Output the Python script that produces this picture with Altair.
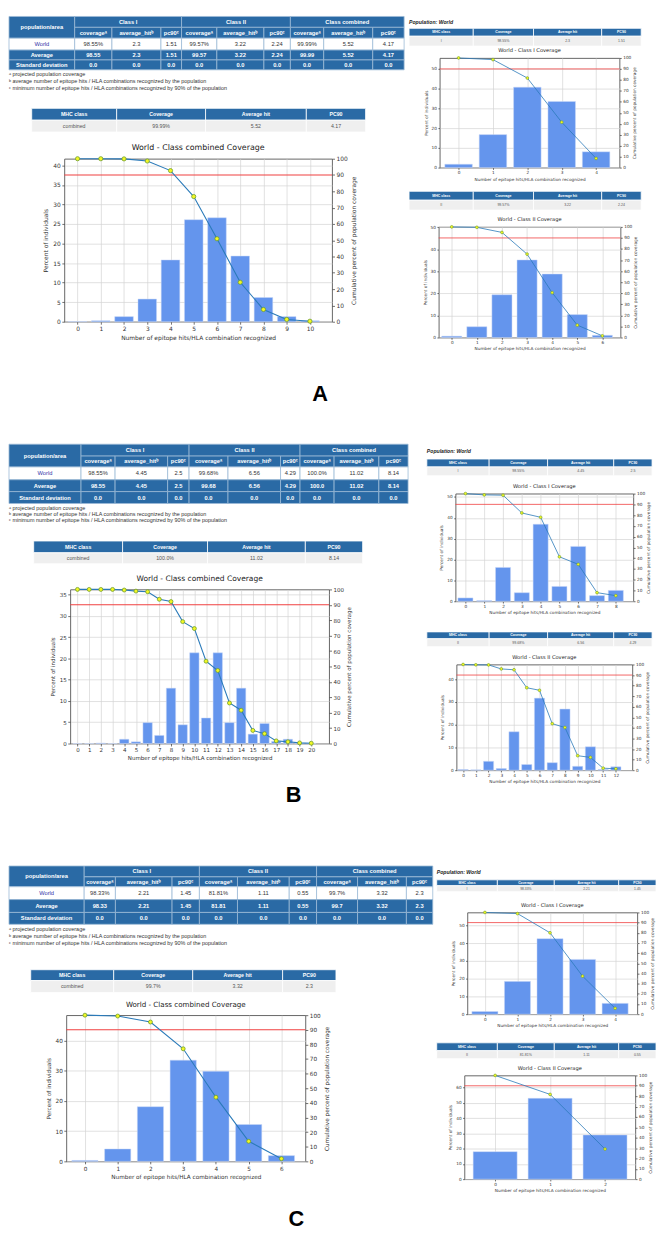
import altair as alt
import pandas as pd

# ================= DATA =================
# Panel A
HITS_A_COMB = [0, 1, 2, 3, 4, 5, 6, 7, 8, 9, 10]
PCT_A_COMB = [0.05, 0.25, 1.3, 5.8, 15.8, 26.1, 26.6, 16.8, 6.2, 1.3, 0.25]
CUM_A_COMB = [100, 100, 99.9, 98.6, 92.7, 76.8, 50.9, 24.2, 7.5, 1.4, 0.3]
HITS_A_I = [0, 1, 2, 3, 4]
PCT_A_I = [1.7, 16.7, 40.7, 33.5, 8.0]
CUM_A_I = [100, 98.5, 81.7, 41.4, 8.4]
HITS_A_II = [0, 1, 2, 3, 4, 5, 6]
PCT_A_II = [0.6, 4.9, 19.4, 35.2, 28.8, 10.4, 1.0]
CUM_A_II = [100, 99.6, 95.0, 75.4, 40.5, 11.2, 1.5]
# Panel B
HITS_B_COMB = [0, 1, 2, 3, 4, 5, 6, 7, 8, 9, 10, 11, 12, 13, 14, 15, 16, 17, 18, 19, 20]
PCT_B_COMB = [0, 0, 0.1, 0, 1.0, 0.4, 4.9, 1.9, 13.0, 4.4, 21.3, 6.0, 21.3, 4.9, 13.0, 2.2, 4.7, 0.5, 1.0, 0.1, 0.05]
CUM_B_COMB = [100, 100, 100, 100, 99.6, 98.9, 98.5, 93.6, 92.1, 79.1, 74.6, 53.4, 47.4, 26.3, 21.6, 8.5, 6.4, 1.7, 1.1, 0.4, 0.2]
HITS_B_I = [0, 1, 2, 3, 4, 5, 6, 7, 8]
PCT_B_I = [1.6, 0.3, 16.2, 4.1, 36.9, 7.1, 26.3, 2.7, 5.2]
CUM_B_I = [100, 98.8, 98.5, 82.0, 78.0, 41.3, 34.3, 8.0, 5.2]
HITS_B_II = [0, 1, 2, 3, 4, 5, 6, 7, 8, 9, 10, 11, 12]
PCT_B_II = [0.3, 0.15, 3.9, 0.7, 16.9, 2.5, 31.7, 3.3, 26.9, 1.7, 10.3, 0.3, 1.5]
CUM_B_II = [100, 99.7, 99.6, 95.8, 95.0, 78.0, 75.6, 44.0, 40.4, 13.7, 12.1, 1.9, 1.3]
# Panel C
HITS_C_COMB = [0, 1, 2, 3, 4, 5, 6]
PCT_C_COMB = [0.3, 4.1, 18.1, 33.5, 29.8, 12.2, 1.9]
CUM_C_COMB = [100, 99.4, 95.3, 77.0, 43.9, 13.7, 1.8]
HITS_C_I = [0, 1, 2, 3, 4]
PCT_C_I = [1.5, 18.5, 42.6, 30.9, 6.1]
CUM_C_I = [100, 98.9, 80.0, 37.4, 5.8]
HITS_C_II = [0, 1, 2]
PCT_C_II = [18.0, 52.9, 28.9]
CUM_C_II = [100, 81.7, 29.0]

RULE_LEVEL = [90]
RIGHT_TICKS = [0, 10, 20, 30, 40, 50, 60, 70, 80, 90, 100]
PANEL_LETTERS = ["A", "B", "C"]

# Tables
AREA_HEAD = "population/area"
CLASS_NAMES = ["Class I", "Class II", "Class combined"]
SUB_HEADS = ["coverageᵃ", "average_hitᵇ", "pc90ᶜ"]
A_WORLD = ["World", "98.55%", "2.3", "1.51", "99.57%", "3.22", "2.24", "99.99%", "5.52", "4.17"]
A_AVG = ["Average", "98.55", "2.3", "1.51", "99.57", "3.22", "2.24", "99.99", "5.52", "4.17"]
B_WORLD = ["World", "98.55%", "4.45", "2.5", "99.68%", "6.56", "4.29", "100.0%", "11.02", "8.14"]
B_AVG = ["Average", "98.55", "4.45", "2.5", "99.68", "6.56", "4.29", "100.0", "11.02", "8.14"]
C_WORLD = ["World", "98.33%", "2.21", "1.45", "81.81%", "1.11", "0.55", "99.7%", "3.32", "2.3"]
C_AVG = ["Average", "98.33", "2.21", "1.45", "81.81", "1.11", "0.55", "99.7", "3.32", "2.3"]
SD_ROW = ["Standard deviation", "0.0", "0.0", "0.0", "0.0", "0.0", "0.0", "0.0", "0.0", "0.0"]
FOOTNOTES = ["ᵃ projected population coverage",
             "ᵇ average number of epitope hits / HLA combinations recognized by the population",
             "ᶜ minimum number of epitope hits / HLA combinations recognized by 90% of the population"]
MHC_HEAD = ["MHC class", "Coverage", "Average hit", "PC90"]
MHC_A_COMB = ["combined", "99.99%", "5.52", "4.17"]
MHC_A_I = ["I", "98.55%", "2.3", "1.51"]
MHC_A_II = ["II", "99.57%", "3.22", "2.24"]
MHC_B_COMB = ["combined", "100.0%", "11.02", "8.14"]
MHC_B_I = ["I", "98.55%", "4.45", "2.5"]
MHC_B_II = ["II", "99.68%", "6.56", "4.29"]
MHC_C_COMB = ["combined", "99.7%", "3.32", "2.3"]
MHC_C_I = ["I", "98.33%", "2.21", "1.45"]
MHC_C_II = ["II", "81.81%", "1.11", "0.55"]
POP_TITLE = "Population: World"
X_TITLE = "Number of epitope hits/HLA combination recognized"
Y_LEFT = "Percent of individuals"
Y_RIGHT = "Cumulative percent of population coverage"

# ================= STYLE =================
FONT_T = "Liberation Sans"
FONT_C = "DejaVu Sans"
HDR = "#2a6aa5"
LINK = "#3434a8"
BAR = "#6495ed"
BAR_EDGE = "#c9d9f7"
LINE = "#2a7ab9"
MK_FILL = "#f2f724"
MK_EDGE = "#6f9e2e"
RED = "#f04040"
GRID = "#d4d4d4"
INK = "#333333"


def style(title, lab, tick, tp, lw, mk, mkw, toff, lw_lab):
    s = dict(title=title, lab=lab, ax=lab, tick=tick, tp=tp, lw=lw, mk=mk, mkw=mkw, toff=toff)
    # estimated extents of title / axes outside the plot area (used to place views)
    s["top"] = toff + title + lab / 2 + 1
    s["bot"] = tick + 1.5 + lab + tp + lab + 0.5
    s["left"] = tick + 1.5 + lw_lab + tp + 1 + lab
    return s


BIG = style(8, 6, 2.5, 3, 1.1, 18, 0.8, 3, 7.6)
BIGB = style(7.6, 5.6, 2.5, 3, 1.1, 16, 0.8, 3, 7.1)
BIGC = style(7.2, 5.8, 2.5, 3, 1.1, 16, 0.8, 3, 7.4)
SMALL = style(5.2, 4.3, 1.8, 2, 0.8, 8, 0.6, 2, 5.5)

UNIT = alt.Scale(domain=[0, 1], nice=False, zero=False)
UNIT_R = alt.Scale(domain=[0, 1], nice=False, zero=False, reverse=True)


def frame():
    # invisible rectangle covering the whole view, so the view's extent is fixed
    return alt.Chart(pd.DataFrame({"s": [0]})).mark_rect(opacity=0).encode(
        x=alt.XDatum(0, type="quantitative", scale=UNIT, axis=None), x2=alt.X2Datum(1),
        y=alt.YDatum(0, type="quantitative", scale=UNIT_R, axis=None), y2=alt.Y2Datum(1))


def spacer(w, h):
    return frame().properties(width=w, height=h)


def edges(ws):
    tot = float(sum(ws))
    out, acc = [0.0], 0.0
    for v in ws:
        acc += v
        out.append(acc / tot)
    return out


def cells_chart(cells, w, h, fs, stroke, sw):
    df = pd.DataFrame(cells, columns=["x0", "x1", "y0", "y1", "txt", "fill", "tcol", "bold"])
    base = alt.Chart(df)
    rect = base.mark_rect(stroke=stroke, strokeWidth=sw).encode(
        x=alt.X("x0:Q", scale=UNIT, axis=None), x2="x1:Q",
        y=alt.Y("y0:Q", scale=UNIT_R, axis=None), y2="y1:Q",
        fill=alt.Fill("fill:N", scale=None))
    tb = base.transform_calculate(xc="(datum.x0+datum.x1)/2", yc="(datum.y0+datum.y1)/2")
    enc = dict(x=alt.X("xc:Q", scale=UNIT, axis=None), y=alt.Y("yc:Q", scale=UNIT_R, axis=None),
               text="txt:N", color=alt.Color("tcol:N", scale=None))
    t1 = tb.transform_filter("datum.bold == 1").mark_text(
        font=FONT_T, fontSize=fs, fontWeight="bold", baseline="middle").encode(**enc)
    t0 = tb.transform_filter("datum.bold == 0").mark_text(
        font=FONT_T, fontSize=fs, baseline="middle").encode(**enc)
    return alt.layer(rect, t1, t0).properties(width=w, height=h)


def big_table(world, avg, sd, colw, rowh, w, h, fs):
    cx, ry = edges(colw), edges(rowh)
    cells = []

    def add(c0, c1, r0, r1, txt, fill, tcol, bold):
        cells.append((cx[c0], cx[c1], ry[r0], ry[r1], txt, fill, tcol, bold))
    add(0, 1, 0, 2, AREA_HEAD, HDR, "#ffffff", 1)
    for g, name in enumerate(CLASS_NAMES):
        add(1 + 3 * g, 4 + 3 * g, 0, 1, name, HDR, "#ffffff", 1)
        for j, sub in enumerate(SUB_HEADS):
            add(1 + 3 * g + j, 2 + 3 * g + j, 1, 2, sub, HDR, "#ffffff", 1)
    for j, v in enumerate(world):
        add(j, j + 1, 2, 3, v, "#ffffff", LINK if j == 0 else INK, 0)
    for j, v in enumerate(avg):
        add(j, j + 1, 3, 4, v, HDR, "#ffffff", 1)
    for j, v in enumerate(sd):
        add(j, j + 1, 4, 5, v, HDR, "#ffffff", 1)
    return cells_chart(cells, w, h, fs, "#9cbad6", 0.8)


def mhc_table(vals, colw, rowh, w, h, fs):
    cx, ry = edges(colw), edges(rowh)
    cells = []
    for j, v in enumerate(MHC_HEAD):
        cells.append((cx[j], cx[j + 1], ry[0], ry[1], v, HDR, "#ffffff", 1))
    for j, v in enumerate(vals):
        cells.append((cx[j], cx[j + 1], ry[1], ry[2], v, "#efefef", "#555555", 0))
    return cells_chart(cells, w, h, fs, "#ffffff", 0.8)


def text_lines(lines, w, h, fs, weight="normal", style_="normal", color=INK):
    n = len(lines)
    df = pd.DataFrame({"i": list(range(n)), "txt": lines})
    txt = alt.Chart(df).transform_calculate(yy="(datum.i + 0.5) / %d" % n).mark_text(
        font=FONT_T, fontSize=fs, fontWeight=weight, fontStyle=style_,
        align="left", baseline="middle", color=color).encode(
        x=alt.XDatum(0, type="quantitative", scale=UNIT, axis=None),
        y=alt.Y("yy:Q", scale=UNIT_R, axis=None), text="txt:N")
    return alt.layer(frame(), txt).properties(width=w, height=h)


def coverage_chart(title, hits, pct, cum, ymax, lticks, xdom, w, h, st, tag=None):
    df = pd.DataFrame({"hits": hits, "pct": pct, "cum": cum})
    base = alt.Chart(df)
    xs = alt.Scale(domain=xdom, nice=False, zero=False)
    ys = alt.Scale(domain=[0, 100], nice=False, zero=True)
    yl = alt.Scale(domain=[0, ymax], nice=False, zero=True)

    def xaxis():
        return alt.Axis(values=hits, format="d", title=X_TITLE, grid=True, gridColor=GRID, gridWidth=0.7,
                        domain=False, tickColor=INK, tickSize=st["tick"], tickWidth=0.7,
                        labelColor=INK, labelFont=FONT_C, labelFontSize=st["lab"], labelPadding=1.5,
                        labelFlush=False, labelOverlap=False,
                        titleFont=FONT_C, titleFontSize=st["ax"], titleFontWeight="normal",
                        titleColor=INK, titlePadding=st["tp"])

    def yraxis():
        return alt.Axis(values=RIGHT_TICKS, orient="right", title=Y_RIGHT, grid=False, domain=False,
                        tickColor=INK, tickSize=st["tick"], tickWidth=0.7,
                        labelColor=INK, labelFont=FONT_C, labelFontSize=st["lab"], labelPadding=1.5,
                        labelFlush=False, titleFont=FONT_C, titleFontSize=st["ax"],
                        titleFontWeight="normal", titleColor=INK, titlePadding=st["tp"],
                        titleAngle=270, titleBaseline="top")

    def ylaxis():
        return alt.Axis(values=lticks, orient="left", title=Y_LEFT, grid=True, gridColor=GRID,
                        gridWidth=0.7, domain=False, tickColor=INK, tickSize=st["tick"], tickWidth=0.7,
                        labelColor=INK, labelFont=FONT_C, labelFontSize=st["lab"], labelPadding=1.5,
                        labelFlush=False, titleFont=FONT_C, titleFontSize=st["ax"],
                        titleFontWeight="normal", titleColor=INK, titlePadding=st["tp"] + 1)
    bars = base.transform_calculate(
        x0="datum.hits - 0.4", x1="datum.hits + 0.4", zero="0").mark_bar(
        color=BAR, stroke=BAR_EDGE, strokeWidth=0.5).encode(
        x=alt.X("x0:Q", scale=xs, axis=xaxis()), x2="x1:Q",
        y=alt.Y("pct:Q", scale=yl, axis=ylaxis()),
        y2="zero:Q")
    left_layers = [bars]
    if tag is not None:
        # panel letter, anchored at the plot's bottom-left corner and offset below the axis
        letter_txt, dx, dy = tag
        left_layers.append(alt.Chart(pd.DataFrame({"L": [letter_txt]})).mark_text(
            font=FONT_T, fontSize=22, fontWeight="bold", color="#000000",
            align="center", baseline="middle", dx=dx, dy=dy).encode(
            x=alt.XDatum(xdom[0], type="quantitative", scale=xs, axis=xaxis()),
            y=alt.YDatum(0, type="quantitative", scale=yl, axis=ylaxis()),
            text="L:N"))
    left = alt.layer(*left_layers)
    rule = alt.Chart(pd.DataFrame({"r": RULE_LEVEL})).mark_rule(color=RED, strokeWidth=st["lw"]).encode(
        y=alt.Y("r:Q", scale=ys, axis=yraxis()))
    line = base.mark_line(color=LINE, strokeWidth=st["lw"]).encode(
        x=alt.X("hits:Q", scale=xs, axis=xaxis()),
        y=alt.Y("cum:Q", scale=ys, axis=yraxis()))
    pts = base.mark_point(shape="circle", filled=True, fill=MK_FILL, stroke=MK_EDGE,
                          strokeWidth=st["mkw"], size=st["mk"], opacity=1).encode(
        x=alt.X("hits:Q", scale=xs, axis=xaxis()),
        y=alt.Y("cum:Q", scale=ys, axis=yraxis()))
    right = alt.layer(rule, line, pts)
    return alt.layer(left, right).resolve_scale(y="independent").properties(
        width=w, height=h,
        title=alt.TitleParams(title, font=FONT_C, fontSize=st["title"], fontWeight="normal",
                              color="#222222", offset=st["toff"], anchor="middle"),
        view=alt.ViewBackground(stroke="#555555", strokeWidth=0.9))


def plain(y, x, h, ch, edge=0.5):
    return dict(y=y, x=x, h=h, ch=ch, top=edge, bot=edge, left=0)


def text_entry(y, x, h, ch):
    return dict(y=y, x=x, h=h, ch=ch, top=0, bot=0, left=0)


def plot(y, x, h, ch, st):
    return dict(y=y, x=x, h=h, ch=ch, top=st["top"], bot=st["bot"], left=st["left"])


def column(entries, col_x, y_start):
    items, cur = [], float(y_start)
    for e in entries:
        g = round(e["y"] - e["top"] - cur)
        if g >= 1:
            items.append(spacer(1, g))
            cur += g
        sw = round(e["x"] - col_x - e["left"])
        if sw >= 1:
            items.append(alt.hconcat(spacer(sw, 1), e["ch"], spacing=0))
        else:
            items.append(e["ch"])
        cur += e["top"] + e["h"] + e["bot"]
    return alt.vconcat(*items, spacing=0)


LMHC = [86, 90, 102, 60]
RMHC = [65, 61, 69, 40]
TOP_SHIFT = 6

# ================= PANEL A =================
leftA = column([
    plain(8, 8, 54, big_table(A_WORLD, A_AVG, SD_ROW, [67, 38, 50, 21, 36, 48, 27, 34, 50, 32],
                             [11, 11, 12, 10, 10], 400, 54, 5.8)),
    text_entry(62, 8, 21, text_lines(FOOTNOTES, 400, 21, 5.5)),
    plain(106, 30, 24, mhc_table(MHC_A_COMB, LMHC, [12, 12], 338, 24, 5.3)),
    plot(156, 63, 165, coverage_chart("World - Class combined Coverage", HITS_A_COMB, PCT_A_COMB, CUM_A_COMB,
                                      41.7, [0, 5, 10, 15, 20, 25, 30, 35, 40], [-0.57, 10.95], 271, 165, BIG,
                                      tag=(PANEL_LETTERS[0], 259, 73)), BIG),
], 8, 8 + TOP_SHIFT)
rightA = column([
    text_entry(8, 412, 11, text_lines([POP_TITLE], 235, 11, 5.2, weight="bold", style_="italic", color="#222222")),
    plain(19, 412, 18, mhc_table(MHC_A_I, RMHC, [8, 10], 235, 18, 3.6)),
    plot(50, 442, 111, coverage_chart("World - Class I Coverage", HITS_A_I, PCT_A_I, CUM_A_I,
                                      55.5, [0, 10, 20, 30, 40, 50], [-0.55, 4.68], 182, 111, SMALL), SMALL),
    plain(188, 412, 19, mhc_table(MHC_A_II, RMHC, [9, 10], 235, 19, 3.6)),
    plot(223, 441, 112, coverage_chart("World - Class II Coverage", HITS_A_II, PCT_A_II, CUM_A_II,
                                       50.2, [0, 10, 20, 30, 40, 50], [-0.52, 6.72], 184, 112, SMALL), SMALL),
], 412, 8 + TOP_SHIFT)
rowA = alt.hconcat(leftA, rightA, spacing=412 - 8 - 401)

# ================= PANEL B =================
leftB = column([
    plain(443, 8, 60, big_table(B_WORLD, B_AVG, SD_ROW, [74, 35, 54, 22, 40, 54, 20, 35, 46, 30],
                               [12, 11, 13, 12, 12], 404, 60, 5.8)),
    text_entry(503, 8, 19, text_lines(FOOTNOTES, 404, 19, 5.5)),
    plain(539, 32, 23, mhc_table(MHC_B_COMB, [90, 86, 99, 58], [12, 11], 333, 23, 5.3)),
    plot(587, 70, 156, coverage_chart("World - Class combined Coverage", HITS_B_COMB, PCT_B_COMB, CUM_B_COMB,
                                      36.2, [0, 5, 10, 15, 20, 25, 30, 35], [-0.62, 21.52], 262, 156, BIGB,
                                      tag=(PANEL_LETTERS[1], 226, 52)), BIGB),
], 8, 443)
rightB = column([
    text_entry(443, 430, 14, text_lines([POP_TITLE], 228, 14, 5.2, weight="bold", style_="italic", color="#222222")),
    plain(457, 430, 17, mhc_table(MHC_B_I, RMHC, [8, 9], 228, 17, 3.6)),
    plot(491, 458, 109, coverage_chart("World - Class I Coverage", HITS_B_I, PCT_B_I, CUM_B_I,
                                       51.6, [0, 10, 20, 30, 40, 50], [-0.53, 8.93], 180, 109, SMALL), SMALL),
    plain(630, 430, 15, mhc_table(MHC_B_II, RMHC, [7, 8], 228, 15, 3.6)),
    plot(662, 459, 107, coverage_chart("World - Class II Coverage", HITS_B_II, PCT_B_II, CUM_B_II,
                                       46.5, [0, 10, 20, 30, 40], [-0.52, 13.29], 178, 107, SMALL), SMALL),
], 430, 443)
rowB = alt.hconcat(leftB, rightB, spacing=430 - 8 - 405)

# ================= PANEL C =================
leftC = column([
    plain(865, 8, 59, big_table(C_WORLD, C_AVG, SD_ROW, [77, 32, 58, 28, 39, 53, 28, 42, 50, 27],
                               [11, 10, 13, 13, 12], 429, 59, 5.8)),
    text_entry(924, 8, 22, text_lines(FOOTNOTES, 429, 22, 5.5)),
    plain(969, 29, 23, mhc_table(MHC_C_COMB, [84, 80, 91, 54], [11, 12], 309, 23, 5.3)),
    plot(1014, 65, 148, coverage_chart("World - Class combined Coverage", HITS_C_COMB, PCT_C_COMB, CUM_C_COMB,
                                       48.4, [0, 10, 20, 30, 40], [-0.57, 6.73], 242, 148, BIGC,
                                       tag=(PANEL_LETTERS[2], 233, 58)), BIGC),
], 8, 865)
rightC = column([
    text_entry(865, 440, 13, text_lines([POP_TITLE], 222, 13, 5.2, weight="bold", style_="italic", color="#222222")),
    plain(878, 440, 12, mhc_table(MHC_C_I, RMHC, [6, 6], 222, 12, 3.4)),
    plot(910, 470, 103, coverage_chart("World - Class I Coverage", HITS_C_I, PCT_C_I, CUM_C_I,
                                       57.4, [0, 10, 20, 30, 40, 50], [-0.54, 4.68], 172, 103, SMALL), SMALL),
    plain(1041, 440, 16, mhc_table(MHC_C_II, RMHC, [8, 8], 222, 16, 3.6)),
    plot(1073, 467, 105, coverage_chart("World - Class II Coverage", HITS_C_II, PCT_C_II, CUM_C_II,
                                        67.9, [0, 10, 20, 30, 40, 50, 60], [-0.56, 2.55], 173, 105, SMALL), SMALL),
], 440, 865)
rowC = alt.hconcat(leftC, rightC, spacing=440 - 8 - 430)

chart = alt.vconcat(
    rowA, spacer(1, 443 - 405),
    rowB, spacer(1, 865 - 806),
    rowC,
    spacing=0,
).configure_view(stroke=None).properties(padding=0, background="#ffffff")

chart.save("out.html", embed_options={"renderer": "svg", "actions": False})
